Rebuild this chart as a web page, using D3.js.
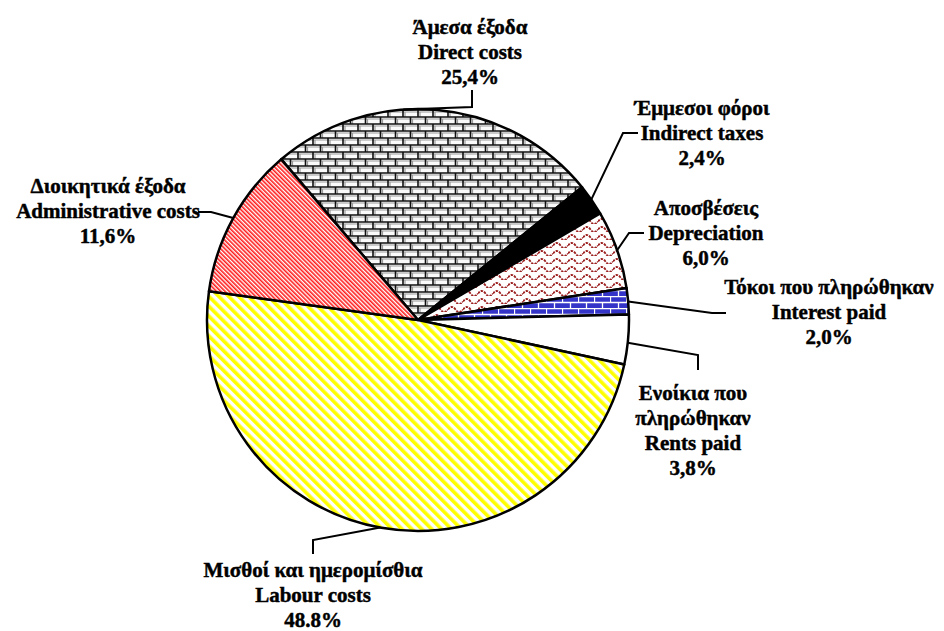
<!DOCTYPE html>
<html lang="el">
<head>
<meta charset="UTF-8">
<title>Cost structure pie</title>
<script src="https://d3js.org/d3.v7.min.js"></script>
<style>
  body { margin: 0; background: #fff; }
  text { font-family: "Liberation Serif", "Times New Roman", serif; font-weight: bold; font-size: 21px;
         fill: #000; stroke: #000; stroke-width: 0.45px; }
</style>
</head>
<body>
<div id="chart"></div>
<script>
// slice data, clockwise starting with Direct costs
var namesGr = [["Άμεσα έξοδα"], ["Έμμεσοι φόροι"], ["Αποσβέσεις"], ["Τόκοι που πληρώθηκαν"],
               ["Ενοίκια που", "πληρώθηκαν"], ["Μισθοί και ημερομίσθια"], ["Διοικητικά έξοδα"]];
var namesEn = ["Direct costs", "Indirect taxes", "Depreciation", "Interest paid",
               "Rents paid", "Labour costs", "Administrative costs"];
var shares = [25.4, 2.4, 6.0, 2.0, 3.8, 48.8, 11.6];
var shareLabels = ["25,4%", "2,4%", "6,0%", "2,0%", "3,8%", "48.8%", "11,6%"];
var fills = ["url(#bricks)", "#000", "url(#waves)", "url(#bluebricks)", "#fff", "url(#yellowStripes)", "url(#redStripes)"];

// label placement: text centre x, first line centre y, leader anchor angle (deg) and bends
var labelLayout = [
  {x: 470, y: 27,  a: -4,    bends: [[472, 107], [472, 90]]},
  {x: 702, y: 108, a: 55.2,  bends: [[623, 133], [638, 133]]},
  {x: 706, y: 208, a: 70.7,  bends: [[629, 233], [644, 233]]},
  {x: 829, y: 287, a: 85,    bends: [[712, 313], [726, 313]]},
  {x: 693, y: 393, a: 96.2,  bends: [[698, 355], [698, 370]]},
  {x: 313, y: 570, a: 190.3, bends: [[313, 540], [313, 554]]},
  {x: 108, y: 186, a: 298.9, bends: [[211, 212], [198, 212]]}
];

var width = 944, height = 631;
var cx = 418, cy = 320, radius = 211;
var startDeg = -40.4, lineH = 25;

var svg = d3.select("#chart").append("svg")
    .attr("width", width)
    .attr("height", height);

var defs = svg.append("defs");

// grey bricks
var pb = defs.append("pattern").attr("id", "bricks")
    .attr("patternUnits", "userSpaceOnUse").attr("width", 15).attr("height", 14);
pb.append("rect").attr("width", 15).attr("height", 14).attr("fill", "#fafafa");
pb.append("path").attr("d", "M0,2H15M0,9H15M2,2V7M9.5,9V14M9.5,0V0")
    .attr("stroke", "#9a9a9a").attr("stroke-width", 1.2).attr("fill", "none");
pb.append("path").attr("d", "M0,7H15M0,14H15M0,0H15M7.5,7V14M15,0V7M0,0V7")
    .attr("stroke", "#111").attr("stroke-width", 1.6).attr("fill", "none");

// blue bricks
var pbb = defs.append("pattern").attr("id", "bluebricks")
    .attr("patternUnits", "userSpaceOnUse").attr("width", 16).attr("height", 12);
pbb.append("rect").attr("width", 16).attr("height", 12).attr("fill", "#3434c8");
pbb.append("path").attr("d", "M0,0.5H16M0,6.5H16M0.5,0V6.5M8.5,6.5V12")
    .attr("stroke", "#fff").attr("stroke-width", 1.3).attr("fill", "none");

// dark red waves
var pw = defs.append("pattern").attr("id", "waves")
    .attr("patternUnits", "userSpaceOnUse").attr("width", 15).attr("height", 8);
pw.append("rect").attr("width", 15).attr("height", 8).attr("fill", "#fff");
pw.append("path").attr("d", "M0,5.5 Q3.75,0.5 7.5,5.5 T15,5.5")
    .attr("stroke", "#9c2020").attr("stroke-width", 1.8).attr("stroke-dasharray", "2.5,1").attr("fill", "none");

// yellow wide stripes
var py = defs.append("pattern").attr("id", "yellowStripes")
    .attr("patternUnits", "userSpaceOnUse").attr("width", 7).attr("height", 10)
    .attr("patternTransform", "rotate(-45)");
py.append("rect").attr("width", 7).attr("height", 10).attr("fill", "#fff");
py.append("rect").attr("width", 3.6).attr("height", 10).attr("fill", "#ffff00");

// red thin stripes
var pr = defs.append("pattern").attr("id", "redStripes")
    .attr("patternUnits", "userSpaceOnUse").attr("width", 3).attr("height", 10)
    .attr("patternTransform", "rotate(-45)");
pr.append("rect").attr("width", 3).attr("height", 10).attr("fill", "#fff");
pr.append("rect").attr("width", 1.6).attr("height", 10).attr("fill", "#ff1a1a");

var rad = Math.PI / 180;
var pie = d3.pie().sort(null)
    .startAngle(startDeg * rad)
    .endAngle(startDeg * rad + 2 * Math.PI);
var arc = d3.arc().innerRadius(0).outerRadius(radius);

var g = svg.append("g").attr("transform", "translate(" + cx + "," + cy + ")");

g.selectAll("path.slice")
    .data(pie(shares))
    .enter()
    .append("path")
    .attr("class", "slice")
    .attr("d", arc)
    .attr("fill", function(d, i) { return fills[i]; })
    .attr("stroke", "#000")
    .attr("stroke-width", 2.5)
    .attr("stroke-linejoin", "round");

// leader lines
svg.selectAll("polyline.leader")
    .data(labelLayout)
    .enter()
    .append("polyline")
    .attr("class", "leader")
    .attr("points", function(d) {
        var a = d.a * rad;
        var p0 = [cx + radius * Math.sin(a), cy - radius * Math.cos(a)];
        return [p0].concat(d.bends).map(function(p) { return p.join(","); }).join(" ");
    })
    .attr("fill", "none")
    .attr("stroke", "#000")
    .attr("stroke-width", 2);

// labels
labelLayout.forEach(function(l, i) {
    var lines = namesGr[i].concat([namesEn[i], shareLabels[i]]);
    var t = svg.append("text").attr("text-anchor", "middle");
    lines.forEach(function(s, j) {
        t.append("tspan")
            .attr("x", l.x)
            .attr("y", l.y + j * lineH + 7)
            .text(s);
    });
});
</script>
</body>
</html>
